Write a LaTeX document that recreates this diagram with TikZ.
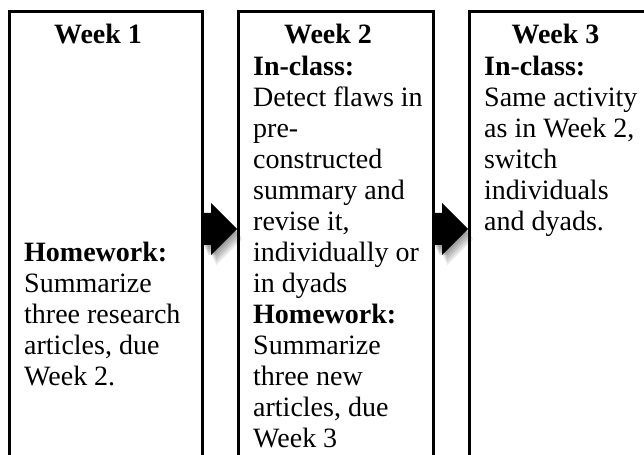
\documentclass[tikz,border=0pt]{standalone}
\usepackage{fontspec}
\setmainfont{Liberation Serif}
\usetikzlibrary{calc}

% block arrow from box edge #1 to box edge #2
\newcommand{\weekarrow}[2]{%
  \fill[softshadow={1,2}, softshadow={2,4}, softshadow={3,6}, softshadow={4,8}, softshadow={5,10}]
    ($(#1)+(1,-16)$) -- ++(8,0) -- ++(0,-10) -- ($(#2)+(-1,0)$)
    -- ($(#1)+(9,26)$) -- ++(0,-10) -- ++(-8,0) -- cycle;}

\begin{document}
\begin{tikzpicture}[x=1bp, y=-1bp,
  weekbox/.style={draw, line width=3bp, minimum width=#1, minimum height=460bp,
    inner sep=0pt, outer sep=0pt, anchor=north west},
  head/.style={font=\fontsize{28bp}{31bp}\selectfont\bfseries, anchor=base, inner sep=0pt},
  body/.style={font=\fontsize{28bp}{31bp}\selectfont, align=left, anchor=north west, inner sep=0pt},
  softshadow/.style={preaction={fill=black, opacity=0.09, transform canvas={shift={(#1)}}}}
]
\useasboundingbox (0,0) rectangle (644,455);
\clip (0,0) rectangle (644,455);
\def\ay{229}
% boxes
\node[weekbox=193bp] (wk1) at (9,12) {};
\node[weekbox=195bp] (wk2) at (238,12) {};
\node[weekbox=188bp] (wk3) at (469,12) {};
% headings
\node[head] (h1) at ($(wk1.north)+(-7.5,32)$) {Week 1};
\node[head] (h2) at ($(wk2.north)+(-7.5,32)$) {Week 2};
\node[head] (h3) at ($(wk3.north)+(-7.5,32)$) {Week 3};
% cell texts
\node[body] (b1) at ($(wk1.north west)+(15,227.3)$)
  {\strut\textbf{Homework:}\\Summarize\\three research\\articles, due\\Week 2.};
\node[body] (b2) at ($(wk2.north west)+(15,41.3)$)
  {\strut\textbf{In-class:}\\Detect flaws in\\pre-\\constructed\\summary and\\revise it,\\individually or\\in dyads\\\textbf{Homework:}\\Summarize\\three new\\articles, due\\Week 3};
\node[body] (b3) at ($(wk3.north west)+(15,41.3)$)
  {\strut\textbf{In-class:}\\Same activity\\as in Week 2,\\switch\\individuals\\and dyads.};
% arrows
\coordinate (a1) at (wk1.north east |- 0,\ay);
\coordinate (a2) at (wk2.north west |- 0,\ay);
\coordinate (a3) at (wk2.north east |- 0,\ay);
\coordinate (a4) at (wk3.north west |- 0,\ay);
\weekarrow{a1}{a2}
\weekarrow{a3}{a4}
\end{tikzpicture}
\end{document}
